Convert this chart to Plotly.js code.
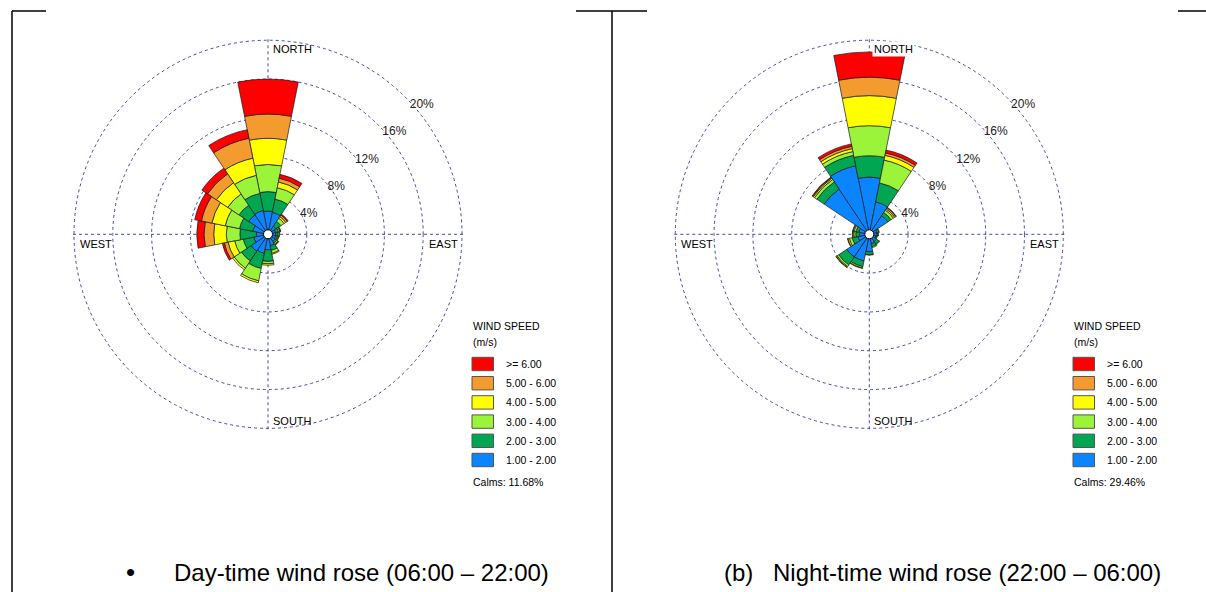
<!DOCTYPE html>
<html><head><meta charset="utf-8">
<script src="https://cdn.plot.ly/plotly-3.0.1.min.js"></script>
<style>html,body{margin:0;padding:0;background:#fff}#chart{width:1206px;height:592px}</style>
</head><body><div id="chart"></div><script>
// ---- data ----
const directions = ['N','NNE','NE','ENE','E','ESE','SE','SSE','S','SSW','SW','WSW','W','WNW','NW','NNW'];
const directionDeg = [0,22.5,45,67.5,90,112.5,135,157.5,180,202.5,225,247.5,270,292.5,315,337.5];
const speedClasses = ['1.00 - 2.00','2.00 - 3.00','3.00 - 4.00','4.00 - 5.00','5.00 - 6.00','>= 6.00'];
const classColors = ['#0A84FF','#00A651','#9BF43A','#FFFF00','#F39B2F','#FF0000'];
const radialTicks = [4,8,12,16,20];
const radialTickText = ['4%','8%','12%','16%','20%'];

// Day-time frequencies (%) per speed class, per direction (N..NNW)
const day_1_2 = [2.4,2.3,1.0,0.8,0.8,0.8,0.9,1.2,1.6,2.0,2.1,1.5,1.2,1.6,2.4,2.5];
const day_2_3 = [2.0,1.4,0.6,0.3,0.2,0.2,0.2,0.5,1.2,1.6,1.2,1.1,1.7,1.4,1.2,1.8];
const day_3_4 = [2.8,1.2,0.4,0.15,0.15,0.1,0.15,0.3,0.25,1.3,0.9,0.9,1.4,1.5,1.4,1.9];
const day_4_5 = [2.7,0.6,0.2,0.05,0.05,0.05,0.05,0.1,0.15,0.2,0.2,0.7,1.3,1.4,1.4,1.8];
const day_5_6 = [2.5,0.4,0.2,0.05,0,0,0.05,0,0,0,0,0.4,1.0,1.1,1.1,2.1];
const day_6p  = [3.6,0.4,0.1,0,0,0,0,0,0,0,0,0.2,0.75,0.7,0.7,0.9];
const dayCalms = '11.68%';

// Night-time frequencies (%)
const night_1_2 = [5.9,3.4,2.3,0.8,0.8,0.7,0.9,1.0,1.8,2.8,2.8,1.2,1.0,1.1,5.6,7.2];
const night_2_3 = [2.2,2.0,0.4,0.2,0.1,0.1,0.3,0.3,0.3,0.6,1.0,0.6,0.4,0.3,0.9,1.1];
const night_3_4 = [3.1,2.4,0.3,0.05,0.05,0.05,0.1,0.1,0.05,0.15,0.2,0.3,0.2,0.2,0.3,0.4];
const night_4_5 = [3.1,0.5,0.15,0,0,0,0,0,0,0.05,0.1,0.15,0.1,0.1,0.15,0.3];
const night_5_6 = [1.9,0.25,0.15,0,0,0,0,0,0,0,0.05,0.05,0.05,0.05,0.1,0.25];
const night_6p  = [2.6,0.3,0.05,0,0,0,0,0,0,0,0,0,0,0,0.05,0.25];
const nightCalms = '29.46%';

const dayCaption = 'Day-time wind rose (06:00 \u2013 22:00)';
const nightCaption = 'Night-time wind rose (22:00 \u2013 06:00)';

// ---- build ----
const W = 1206, H = 592;
const px = x => x / W;
const py = y => 1 - y / H;
const FONT = 'Liberation Sans, Arial, sans-serif';

const daySeries = [day_1_2, day_2_3, day_3_4, day_4_5, day_5_6, day_6p];
const nightSeries = [night_1_2, night_2_3, night_3_4, night_4_5, night_5_6, night_6p];

const traces = [];
function addRose(series, subplot) {
  series.forEach((vals, i) => {
    traces.push({
      type: 'barpolar', subplot: subplot, r: vals, theta: directionDeg, width: 22.5,
      name: speedClasses[i], showlegend: false, hoverinfo: 'skip',
      marker: {color: classColors[i], line: {color: '#1a1a1a', width: 0.7}}
    });
  });
  traces.push({type: 'scatterpolar', subplot: subplot, r: [0], theta: [0], mode: 'markers',
    showlegend: false, hoverinfo: 'skip',
    marker: {size: 9, color: '#fff', line: {color: '#000', width: 1}}});
}
addRose(daySeries, 'polar');
addRose(nightSeries, 'polar2');

const gridCol = '#4848b0';
const R20 = 194;            // pixel radius of the 20% circle
const rMax = 20.2;          // radial range end (slightly past 20 so the 20% ring is drawn)
const Rdom = R20 * rMax / 20;
const CY = 234.3;
function polarCfg(cx) {
  return {
    domain: {x: [px(cx - Rdom), px(cx + Rdom)], y: [py(CY + Rdom), py(CY - Rdom)]},
    bgcolor: '#fff', barmode: 'stack',
    radialaxis: {range: [0, rMax], tickvals: radialTicks, ticktext: radialTickText,
      showline: false, ticks: '', angle: 45, side: 'clockwise', tickangle: 45,
      gridcolor: gridCol, griddash: 'dot', gridwidth: 1,
      tickfont: {family: FONT, size: 12, color: '#222'}},
    angularaxis: {rotation: 90, direction: 'clockwise', tickvals: [0, 90, 180, 270],
      showticklabels: false, ticks: '', showline: false,
      gridcolor: gridCol, griddash: 'dot', gridwidth: 1}
  };
}

const annotations = [];
const shapes = [];
function txt(x, y, text, opts) {
  annotations.push(Object.assign({xref: 'paper', yref: 'paper', x: px(x), y: py(y), text: text,
    showarrow: false, xanchor: 'left', yanchor: 'middle',
    font: {family: FONT, size: 11, color: '#000'}}, opts || {}));
}
function roseDecor(cx, cy, R, northBg) {
  txt(cx + 3, cy - R + 9, 'NORTH', northBg ? {bgcolor: '#fff', borderpad: 1} : {});
  txt(cx + 3, cy + R - 7, 'SOUTH');
  txt(cx - R + 4, cy + 10, 'WEST');
  txt(cx + R - 2, cy + 10, 'EAST', {xanchor: 'right'});
}
function legendBlock(lx, calms) {
  const lf = {family: FONT, size: 10.5, color: '#000'};
  txt(lx, 326, 'WIND SPEED', {font: lf});
  txt(lx, 342, '(m/s)', {font: lf});
  for (let k = 0; k < 6; k++) {
    const ci = 5 - k;
    const yc = 364 + k * 19.2;
    shapes.push({type: 'rect', xref: 'paper', yref: 'paper', x0: px(lx + 1), x1: px(lx + 22.5),
      y0: py(yc - 6.7), y1: py(yc + 6.7), fillcolor: classColors[ci], line: {color: '#555', width: 1}});
    txt(lx + 33, yc, speedClasses[ci], {font: lf});
  }
  txt(lx, 482, 'Calms: ' + calms, {font: lf});
}
const CX_DAY = 268, CX_NIGHT = 869.3;
roseDecor(CX_DAY, CY, R20, false);
roseDecor(CX_NIGHT, CY, R20, true);
legendBlock(471, dayCalms);
legendBlock(1072, nightCalms);

// captions
const capFont = {family: FONT, size: 24, color: '#000'};
txt(124, 572, '\u2022', {font: {family: FONT, size: 26, color: '#000'}});
txt(172, 572, dayCaption, {font: capFont});
txt(722, 572, '(b)', {font: capFont});
txt(771, 572, nightCaption, {font: capFont});

// frame lines
function seg(x0, y0, x1, y1) {
  shapes.push({type: 'line', xref: 'paper', yref: 'paper', x0: px(x0), y0: py(y0), x1: px(x1), y1: py(y1),
    line: {color: '#000', width: 1.5}});
}
seg(12, 11, 46, 11); seg(12, 11, 12, 592);
seg(576, 11, 647, 11); seg(612, 11, 612, 592);
seg(1178, 11, 1206, 11);

const layout = {
  width: W, height: H, margin: {l: 0, r: 0, t: 0, b: 0},
  paper_bgcolor: '#fff', showlegend: false,
  polar: polarCfg(CX_DAY),
  polar2: polarCfg(CX_NIGHT),
  annotations: annotations, shapes: shapes
};
Plotly.newPlot('chart', traces, layout, {staticPlot: true, displayModeBar: false});
</script></body></html>
